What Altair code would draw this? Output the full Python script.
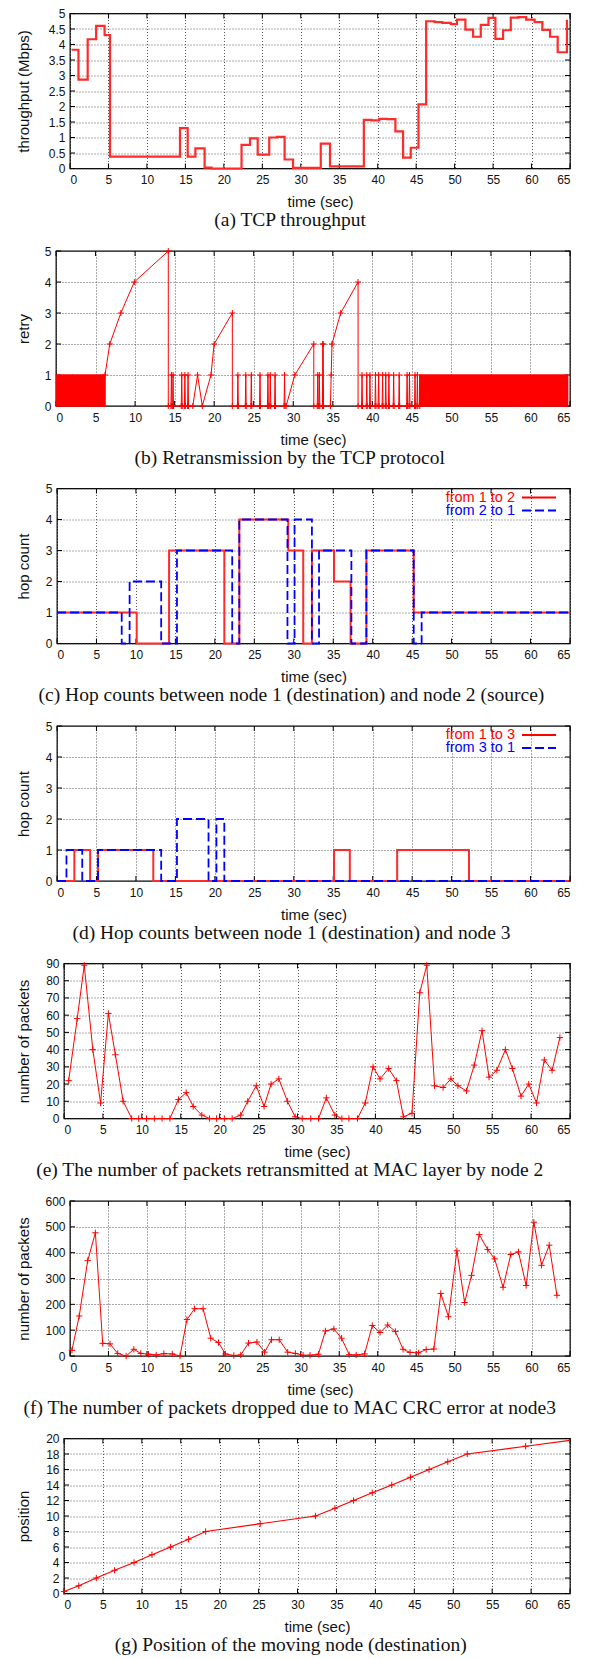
import altair as alt
import pandas as pd

FONT = "Liberation Sans"
SERIF = "Liberation Serif"
RED = "#ff0000"
RED_THICK = "#ff2a2a"
BLUE = "#0000ff"
PLUS = "M-1,0L1,0M0,-1L0,1"

X_TICKS = list(range(0, 66, 5))

# ---------------- (a) TCP throughput (step values) ----------------
tput_t = [0.2, 1.1, 2.3, 3.4, 4.5, 5.2, 14.3, 15.3, 16.3, 17.5, 18.4, 22.3, 23.4, 24.4,
          25.9, 26.9, 27.9, 29.0, 32.6, 33.8, 38.2, 39.2, 40.2, 41.2, 42.3, 43.3, 44.3,
          45.3, 46.3, 47.4, 48.4, 49.5, 50.3, 51.4, 52.4, 53.4, 54.4, 55.3, 56.3, 57.3,
          58.3, 59.3, 60.4, 61.4, 62.4, 63.4, 64.6]
tput_v = [3.83, 2.87, 4.17, 4.6, 4.3, 0.38, 1.3, 0.38, 0.65, 0.03, 0.0, 0.76, 0.97, 0.45,
          1.0, 1.02, 0.29, 0.02, 0.8, 0.07, 1.57, 1.55, 1.6, 1.59, 1.2, 0.35, 0.67,
          2.07, 4.75, 4.72, 4.7, 4.66, 4.8, 4.48, 4.25, 4.63, 4.86, 4.18, 4.46, 4.87,
          4.88, 4.8, 4.72, 4.47, 4.25, 3.75, 4.8]

# ---------------- (b) TCP retry ----------------
retry_dense_start = [0.05, 2.12, 46.0]
retry_dense_end = [2.02, 6.2, 64.7]
retry_ramp1_t = [6.2, 6.8, 8.2, 9.9, 14.2]
retry_ramp1_v = [1, 2, 3, 4, 5]
retry_spikes1 = [14.6, 14.8, 15.9, 16.3, 16.7]
retry_ramp2_t = [17.3, 17.9, 18.5, 19.6, 20.0, 22.3]
retry_ramp2_v = [0, 1, 0, 1, 2, 3]
retry_spikes2 = [23.0, 24.0, 24.7, 25.8, 26.8, 27.1, 27.7, 28.9]
retry_ramp3_t = [29.1, 30.2, 32.6]
retry_ramp3_v = [0, 1, 2]
retry_spikes3 = [33.1, 33.3]
retry_spike_two = 33.75
retry_ramp4_t = [34.7, 34.8, 34.9, 36.0, 38.2]
retry_ramp4_v = [0, 1, 2, 3, 4]
retry_spikes4 = [38.7, 39.3, 39.7, 40.4, 40.8, 41.3, 41.7, 42.1, 42.7, 43.4, 44.4,
                 44.7, 45.4, 45.7]
retry_end_t = 46.0

# ---------------- (c) hop counts node 1 <-> node 2 ----------------
hop12_t = [0, 10.1, 14.2, 21.2, 23.1, 29.3, 31.2, 32.3, 35.1, 37.2, 39.2, 45.2, 65]
hop12_v = [1, 0, 3, 0, 4, 3, 0, 3, 2, 0, 3, 1, 1]
hop21_t = [0, 8.2, 9.2, 13.2, 15.2, 22.2, 23.1, 29.2, 30.1, 32.3, 33.2, 37.3, 39.2,
           45.2, 46.2, 65]
hop21_v = [1, 0, 2, 0, 3, 0, 4, 0, 4, 0, 3, 0, 3, 0, 1, 1]

# ---------------- (d) hop counts node 1 <-> node 3 ----------------
hop13_t = [0, 2.2, 4.2, 5.2, 12.2, 35.1, 37.1, 43.1, 52.2, 65]
hop13_v = [0, 1, 0, 1, 0, 1, 0, 1, 0, 0]
hop31_t = [0, 1.2, 3.2, 5.2, 13.2, 15.2, 19.2, 20.2, 21.2, 65]
hop31_v = [0, 1, 0, 1, 0, 2, 0, 2, 0, 0]

# ---------------- (e) MAC retransmissions node 2 ----------------
mac_t = [0.6, 1.7, 2.6, 3.7, 4.7, 5.7, 6.6, 7.6, 8.7, 9.6, 10.6, 11.6, 12.6, 13.6,
         14.7, 15.7, 16.6, 17.7, 18.7, 19.6, 20.6, 21.6, 22.7, 23.6,
         24.7, 25.7, 26.6, 27.6, 28.7, 29.7, 30.6, 31.7, 32.7, 33.7,
         34.8, 35.7, 36.6, 37.7, 38.7, 39.7, 40.6, 41.7, 42.7, 43.6,
         44.7, 45.7, 46.6, 47.6, 48.7, 49.7, 50.6, 51.7, 52.7, 53.7,
         54.6, 55.6, 56.7, 57.6, 58.7, 59.7, 60.7, 61.7, 62.7, 63.7]
mac_v = [22, 58, 89, 40, 9, 61, 37, 10, 0, 0, 0, 0, 0, 0,
         11, 15, 7, 2, 0, 0, 0, 0, 2, 10,
         19, 7, 20, 23, 10, 1, 0, 0, 0, 12,
         2, 0, 0, 0, 9, 30, 23, 29, 22, 1,
         3, 73, 89, 19, 18, 23, 19, 16, 31, 51,
         24, 28, 40, 29, 13, 20, 9, 34, 28, 47]

# ---------------- (f) CRC drops node 3 ----------------
crc_t = [0.25, 1.2, 2.3, 3.3, 4.25, 5.2, 6.2, 7.3, 8.3, 9.2,
         10.2, 11.2, 12.2, 13.3, 14.3, 15.2, 16.2, 17.3, 18.3, 19.3,
         20.2, 21.3, 22.2, 23.2, 24.3, 25.3, 26.2, 27.2, 28.3, 29.3,
         30.3, 31.2, 32.3, 33.2, 34.3, 35.3, 36.3, 37.2, 38.3, 39.3,
         40.3, 41.3, 42.3, 43.3, 44.2, 45.3, 46.3, 47.3, 48.2, 49.2,
         50.3, 51.3, 52.2, 53.2, 54.3, 55.2, 56.3, 57.3, 58.3, 59.3,
         60.3, 61.3, 62.3, 63.3]
crc_v = [22, 155, 369, 477, 49, 47, 10, 0, 26, 10,
         7, 4, 9, 8, 0, 141, 183, 183, 69, 52,
         8, 2, 4, 50, 54, 15, 63, 63, 15, 10,
         3, 3, 7, 97, 105, 69, 5, 4, 8, 118,
         91, 120, 95, 26, 14, 12, 25, 27, 242, 152,
         407, 207, 312, 470, 412, 376, 266, 393, 403, 273,
         518, 351, 429, 235]

# ---------------- (g) position of moving node ----------------
pos_t = [0, 1.9, 4.15, 6.5, 9.0, 11.3, 13.7, 16.0, 18.2, 25.2, 32.3, 34.8, 37.2, 39.6,
         42.1, 44.5, 46.9, 49.3, 51.8, 59.3]
pos_v = [0.25, 1, 2, 3, 4, 5, 6, 7, 8, 9, 10, 11, 12, 13, 14, 15, 16, 17, 18, 19]
pos_edge_t = 65
pos_edge_v = 19.75

# y tick values per panel
Y_TICKS_A = [0, 0.5, 1, 1.5, 2, 2.5, 3, 3.5, 4, 4.5, 5]
Y_TICKS_HOP = [0, 1, 2, 3, 4, 5]
Y_TICKS_E = list(range(0, 91, 10))
Y_TICKS_F = list(range(0, 601, 100))
Y_TICKS_G = list(range(0, 21, 2))

# ---------------- layout ----------------
RIGHT = 568
LEFTS = {"a": 68, "b": 54, "c": 55, "d": 55, "e": 62, "f": 68, "g": 62}
H = 155
TITLE_X = 29
SPACER = 5
TICK_LEN = 5


def X(field):
    return alt.X(f"{field}:Q", scale=alt.Scale(domain=[0, 65], nice=False, zero=False),
                 axis=alt.Axis(values=X_TICKS, title="time (sec)", labelPadding=6,
                               titlePadding=9))


def Y(field, domain, values, title, key):
    return alt.Y(f"{field}:Q", scale=alt.Scale(domain=domain, nice=False, zero=False),
                 axis=alt.Axis(values=values, title=title, format=".1~f",
                               titleX=TITLE_X - LEFTS[key], labelPadding=5))


def border_ticks(key, domain, yvals, ytitle):
    w = RIGHT - LEFTS[key]
    dx = pd.DataFrame({"t": X_TICKS})
    dy = pd.DataFrame({"v": yvals})
    ye = Y("v", domain, yvals, ytitle, key)
    rule = dict(color="black", strokeWidth=1)
    return [
        alt.Chart(dx).mark_rule(**rule).encode(x=X("t"), y=alt.value(H), y2=alt.value(H - TICK_LEN)),
        alt.Chart(dx).mark_rule(**rule).encode(x=X("t"), y=alt.value(0), y2=alt.value(TICK_LEN)),
        alt.Chart(dy).mark_rule(**rule).encode(y=ye, x=alt.value(0), x2=alt.value(TICK_LEN)),
        alt.Chart(dy).mark_rule(**rule).encode(y=ye, x=alt.value(w - TICK_LEN), x2=alt.value(w)),
    ]


def panel(layers, key, caption):
    body = alt.layer(*layers).properties(width=RIGHT - LEFTS[key], height=H)
    spacer = alt.Chart(pd.DataFrame({"a": [0]})).mark_point(opacity=0).properties(
        width=SPACER, height=1, view=alt.ViewBackground(stroke="transparent"))
    return alt.hconcat(spacer, body, spacing=0).properties(
        title=alt.TitleParams(caption, orient="bottom", font=SERIF, fontSize=19.5,
                              fontWeight="normal", color="#111", offset=1,
                              anchor="middle"))


def legend_layers(key, rows):
    width = RIGHT - LEFTS[key]
    out = []
    for i, (label, color, dash) in enumerate(rows):
        y = 9 + 13 * i
        df = pd.DataFrame({"label": [label]})
        out.append(alt.Chart(df).mark_text(align="right", baseline="middle", font=FONT,
                                           fontSize=14.5, color=color)
                   .encode(text="label:N", x=alt.value(width - 55), y=alt.value(y)))
        rule_kw = dict(color=color, strokeWidth=2)
        if dash:
            rule_kw["strokeDash"] = dash
        out.append(alt.Chart(df).mark_rule(**rule_kw)
                   .encode(x=alt.value(width - 48), x2=alt.value(width - 14), y=alt.value(y)))
    return out


# (a)
df_a = pd.DataFrame({"t": tput_t, "v": tput_v})
ya = Y("v", [0, 5], Y_TICKS_A, "throughput (Mbps)", "a")
chart_a = panel(border_ticks("a", [0, 5], Y_TICKS_A, "throughput (Mbps)") + [
    alt.Chart(df_a).mark_line(interpolate="step-after", color=RED_THICK, strokeWidth=2.2)
    .encode(x=X("t"), y=ya)
], "a", "(a)  TCP throughput")

# (b)
path = []
for t, v in zip(retry_ramp1_t, retry_ramp1_v):
    path.append((t, v))
path.append((retry_ramp1_t[-1], 0))
for s in retry_spikes1:
    path += [(s - 0.06, 0), (s, 1), (s + 0.06, 0)]
for t, v in zip(retry_ramp2_t, retry_ramp2_v):
    path.append((t, v))
path.append((retry_ramp2_t[-1], 0))
for s in retry_spikes2:
    path += [(s - 0.06, 0), (s, 1), (s + 0.06, 0)]
for t, v in zip(retry_ramp3_t, retry_ramp3_v):
    path.append((t, v))
path.append((retry_ramp3_t[-1], 0))
for s in retry_spikes3:
    path += [(s - 0.06, 0), (s, 1), (s + 0.06, 0)]
path += [(retry_spike_two - 0.05, 0), (retry_spike_two - 0.03, 2),
         (retry_spike_two + 0.05, 2), (retry_spike_two + 0.08, 0)]
for t, v in zip(retry_ramp4_t, retry_ramp4_v):
    path.append((t, v))
path.append((retry_ramp4_t[-1], 0))
for s in retry_spikes4:
    path += [(s - 0.06, 0), (s, 1), (s + 0.06, 0)]
path.append((retry_end_t, 0))
df_b = pd.DataFrame({"t": [p[0] for p in path], "v": [p[1] for p in path],
                     "i": list(range(len(path)))})
df_bd = pd.DataFrame({"t": retry_dense_start, "t2": retry_dense_end,
                      "lo": [0] * len(retry_dense_start), "hi": [1] * len(retry_dense_start)})
yb = Y("v", [0, 5], Y_TICKS_HOP, "retry", "b")
chart_b = panel(border_ticks("b", [0, 5], Y_TICKS_HOP, "retry") + [
    alt.Chart(df_bd).mark_rect(color=RED, stroke=RED, strokeWidth=1.5)
    .encode(x=X("t"), x2="t2:Q", y=Y("lo", [0, 5], Y_TICKS_HOP, "retry", "b"), y2="hi:Q"),
    alt.Chart(df_b).mark_line(color=RED, strokeWidth=1)
    .encode(x=X("t"), y=yb, order="i:Q"),
    alt.Chart(df_b).mark_point(shape=PLUS, size=36, filled=False, color=RED, strokeWidth=1, opacity=1)
    .encode(x=X("t"), y=yb),
], "b", "(b)  Retransmission by the TCP protocol")

# (c)
df_c1 = pd.DataFrame({"t": hop12_t, "v": hop12_v})
df_c2 = pd.DataFrame({"t": hop21_t, "v": hop21_v})
yc = Y("v", [0, 5], Y_TICKS_HOP, "hop count", "c")
chart_c = panel(border_ticks("c", [0, 5], Y_TICKS_HOP, "hop count") + [
    alt.Chart(df_c1).mark_line(interpolate="step-after", color=RED_THICK, strokeWidth=2)
    .encode(x=X("t"), y=yc),
    alt.Chart(df_c2).mark_line(interpolate="step-after", color=BLUE, strokeWidth=1.8,
                               strokeDash=[9, 4])
    .encode(x=X("t"), y=yc),
] + legend_layers("c", [("from 1 to 2", RED, None), ("from 2 to 1", BLUE, [9, 4])]),
    "c", "(c)  Hop counts between node 1 (destination) and node 2 (source)")

# (d)
df_d1 = pd.DataFrame({"t": hop13_t, "v": hop13_v})
df_d2 = pd.DataFrame({"t": hop31_t, "v": hop31_v})
yd = Y("v", [0, 5], Y_TICKS_HOP, "hop count", "d")
chart_d = panel(border_ticks("d", [0, 5], Y_TICKS_HOP, "hop count") + [
    alt.Chart(df_d1).mark_line(interpolate="step-after", color=RED_THICK, strokeWidth=2)
    .encode(x=X("t"), y=yd),
    alt.Chart(df_d2).mark_line(interpolate="step-after", color=BLUE, strokeWidth=1.8,
                               strokeDash=[9, 4])
    .encode(x=X("t"), y=yd),
] + legend_layers("d", [("from 1 to 3", RED, None), ("from 3 to 1", BLUE, [9, 4])]),
    "d", "(d)  Hop counts between node 1 (destination) and node 3")

# (e)
df_e = pd.DataFrame({"t": mac_t, "v": mac_v})
ye = Y("v", [0, 90], Y_TICKS_E, "number of packets", "e")
chart_e = panel(border_ticks("e", [0, 90], Y_TICKS_E, "number of packets") + [
    alt.Chart(df_e).mark_line(color=RED, strokeWidth=1).encode(x=X("t"), y=ye),
    alt.Chart(df_e).mark_point(shape=PLUS, size=40, filled=False, color=RED, strokeWidth=1, opacity=1)
    .encode(x=X("t"), y=ye),
], "e", "(e)  The number of packets retransmitted at MAC layer by node 2")

# (f)
df_f = pd.DataFrame({"t": crc_t, "v": crc_v})
yf = Y("v", [0, 600], Y_TICKS_F, "number of packets", "f")
chart_f = panel(border_ticks("f", [0, 600], Y_TICKS_F, "number of packets") + [
    alt.Chart(df_f).mark_line(color=RED, strokeWidth=1).encode(x=X("t"), y=yf),
    alt.Chart(df_f).mark_point(shape=PLUS, size=40, filled=False, color=RED, strokeWidth=1, opacity=1)
    .encode(x=X("t"), y=yf),
], "f", "(f)  The number of packets dropped due to MAC CRC error at node3")

# (g)
df_g = pd.DataFrame({"t": pos_t, "v": pos_v})
df_gl = pd.DataFrame({"t": pos_t + [pos_edge_t], "v": pos_v + [pos_edge_v]})
yg = Y("v", [0, 20], Y_TICKS_G, "position", "g")
chart_g = panel(border_ticks("g", [0, 20], Y_TICKS_G, "position") + [
    alt.Chart(df_gl).mark_line(color=RED, strokeWidth=1.2).encode(x=X("t"), y=yg),
    alt.Chart(df_g).mark_point(shape=PLUS, size=40, filled=False, color=RED, strokeWidth=1, opacity=1)
    .encode(x=X("t"), y=yg),
], "g", "(g)  Position of the moving node (destination)")

chart = alt.vconcat(chart_a, chart_b, chart_c, chart_d, chart_e, chart_f, chart_g,
                    spacing=13.5).properties(
    padding={"left": 0, "top": -1.5, "right": 0, "bottom": 0}
).configure_view(stroke="black", strokeWidth=1.3).configure_axis(
    grid=True, gridColor="#555555", gridDash=[1, 2], gridWidth=1, gridOpacity=1,
    domain=False, ticks=False, tickSize=0,
    labelFont=FONT, labelFontSize=12, labelColor="#111",
    titleFont=FONT, titleFontSize=15, titleFontWeight="normal", titleColor="#111",
)

chart.save("out.html", embed_options={"renderer": "svg", "actions": False})
